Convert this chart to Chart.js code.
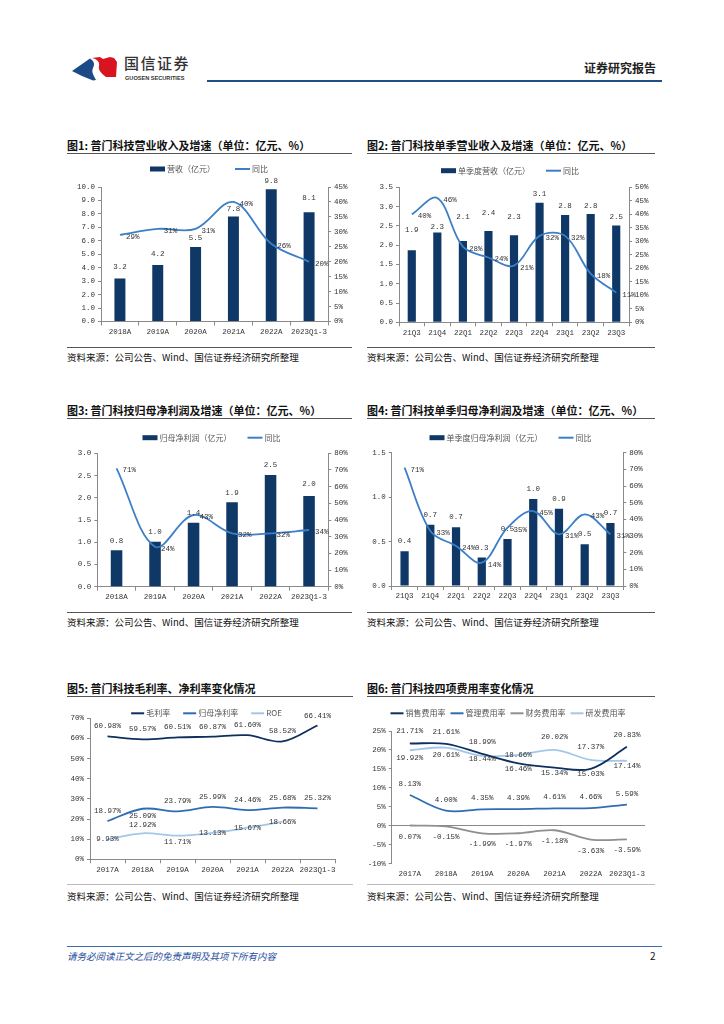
<!DOCTYPE html>
<html lang="zh-CN">
<head>
<meta charset="utf-8">
<script src="https://cdn.jsdelivr.net/npm/chart.js@4.4.0/dist/chart.umd.min.js"></script>
<style>
  body { margin: 0; background: #fff; }
  #page { position: relative; width: 724px; height: 1024px; overflow: hidden; font-family: "Noto Sans CJK SC", sans-serif; }
  .abs { position: absolute; white-space: nowrap; }
  .title { font-size: 11px; font-weight: 700; color: #111; height: 14px; line-height: 14px; }
  .rule { height: 1px; background: #555; }
  .source { font-size: 9.5px; color: #111; height: 12px; line-height: 12px; }
</style>
</head>
<body>
<div id="page">
  <!-- header -->
  <svg class="abs" style="left:66px;top:50px" width="56" height="34" viewBox="66 50 56 34">
    <path d="M72,71 L90,58.5 C94,61 95,64 93,68 C91,72 94,76 96,80 L93,80.5 L82,76 Z" fill="#1d4a86"/>
    <path d="M92,58 L100,57 L103,59 L110,57 L114,58 L117,62 L116,77 L106,77 C101,73 98,70 99,66 C100,62 97,59 92,58 Z" fill="#d7141f"/>
  </svg>
  <div class="abs" style="left:124px;top:54px;font-size:15px;line-height:18px;letter-spacing:1.5px;color:#333;font-weight:500">国信证券</div>
  <div class="abs" style="left:125px;top:74px;font-family:'Liberation Sans',sans-serif;font-size:5.6px;line-height:8px;font-weight:700;color:#333">GUOSEN SECURITIES</div>
  <div class="abs" style="left:207px;top:80px;width:455px;height:2px;background:#1f4e89"></div>
  <div class="abs" style="right:68px;top:61px;font-size:12px;line-height:14px;font-weight:700;color:#222">证券研究报告</div>

  <!-- row 1 -->
  <div class="abs title" style="left:67px;top:138px">图1: 普门科技营业收入及增速（单位：亿元、%）</div>
  <div class="abs rule" style="left:67px;top:153px;width:285px"></div>
  <div class="abs" style="left:67px;top:158px"><canvas id="c1" width="290" height="180"></canvas></div>
  <div class="abs rule" style="left:67px;top:347px;width:285px"></div>
  <div class="abs source" style="left:67px;top:351px">资料来源：公司公告、Wind、国信证券经济研究所整理</div>

  <div class="abs title" style="left:367px;top:138px">图2: 普门科技单季营业收入及增速（单位：亿元、%）</div>
  <div class="abs rule" style="left:367px;top:153px;width:288px"></div>
  <div class="abs" style="left:367px;top:158px"><canvas id="c2" width="290" height="180"></canvas></div>
  <div class="abs rule" style="left:367px;top:347px;width:288px"></div>
  <div class="abs source" style="left:367px;top:351px">资料来源：公司公告、Wind、国信证券经济研究所整理</div>

  <!-- row 2 -->
  <div class="abs title" style="left:67px;top:403px">图3: 普门科技归母净利润及增速（单位：亿元、%）</div>
  <div class="abs rule" style="left:67px;top:418px;width:285px"></div>
  <div class="abs" style="left:67px;top:424px"><canvas id="c3" width="290" height="180"></canvas></div>
  <div class="abs rule" style="left:67px;top:612px;width:285px"></div>
  <div class="abs source" style="left:67px;top:616px">资料来源：公司公告、Wind、国信证券经济研究所整理</div>

  <div class="abs title" style="left:367px;top:403px">图4: 普门科技单季归母净利润及增速（单位：亿元、%）</div>
  <div class="abs rule" style="left:367px;top:418px;width:288px"></div>
  <div class="abs" style="left:367px;top:424px"><canvas id="c4" width="290" height="180"></canvas></div>
  <div class="abs rule" style="left:367px;top:612px;width:288px"></div>
  <div class="abs source" style="left:367px;top:616px">资料来源：公司公告、Wind、国信证券经济研究所整理</div>

  <!-- row 3 -->
  <div class="abs title" style="left:67px;top:681px">图5: 普门科技毛利率、净利率变化情况</div>
  <div class="abs rule" style="left:67px;top:696px;width:286px"></div>
  <div class="abs" style="left:67px;top:700px"><canvas id="c5" width="290" height="178"></canvas></div>
  <div class="abs rule" style="left:67px;top:884px;width:286px;background:#bbb"></div>
  <div class="abs source" style="left:67px;top:890px">资料来源：公司公告、Wind、国信证券经济研究所整理</div>

  <div class="abs title" style="left:367px;top:681px">图6: 普门科技四项费用率变化情况</div>
  <div class="abs rule" style="left:367px;top:696px;width:288px"></div>
  <div class="abs" style="left:367px;top:700px"><canvas id="c6" width="290" height="178"></canvas></div>
  <div class="abs rule" style="left:367px;top:884px;width:288px;background:#bbb"></div>
  <div class="abs source" style="left:367px;top:890px">资料来源：公司公告、Wind、国信证券经济研究所整理</div>

  <!-- footer -->
  <div class="abs" style="left:67px;top:946px;width:595px;height:1px;background:#3a6ea5"></div>
  <div class="abs" style="left:67px;top:950px;font-size:9.5px;line-height:12px;font-style:italic;color:#1f4e9c">请务必阅读正文之后的免责声明及其项下所有内容</div>
  <div class="abs" style="left:650px;top:950px;font-size:10px;line-height:12px;color:#111">2</div>
</div>

<script>
// ---- data ----
const years6 = ['2018A', '2019A', '2020A', '2021A', '2022A', '2023Q1-3'];
const quarters9 = ['21Q3', '21Q4', '22Q1', '22Q2', '22Q3', '22Q4', '23Q1', '23Q2', '23Q3'];
const years7 = ['2017A', '2018A', '2019A', '2020A', '2021A', '2022A', '2023Q1-3'];

const revenue = [3.2, 4.2, 5.54, 7.8, 9.84, 8.13];
const revenueYoY = [29, 31, 31, 40, 26, 20];
const revenueQ = [1.87, 2.33, 2.11, 2.37, 2.26, 3.10, 2.78, 2.81, 2.51];
const revenueQYoY = [40, 46, 28, 24, 21, 32, 32, 18, 11];
const profit = [0.82, 1.01, 1.44, 1.90, 2.51, 2.04];
const profitYoY = [71, 24, 43, 32, 32, 34];
const profitQ = [0.39, 0.69, 0.66, 0.32, 0.53, 0.98, 0.87, 0.47, 0.71];
const profitQYoY = [71, 33, 24, 14, 35, 45, 31, 43, 31];

const grossMargin = [60.98, 59.57, 60.51, 60.87, 61.60, 58.52, 66.41];
const netMargin = [18.97, 25.09, 23.79, 25.99, 24.46, 25.68, 25.32];
const roe = [9.93, 12.92, 11.71, 13.13, 15.67, 18.66, null];

const sellingRate = [21.71, 21.61, 18.99, 16.46, 15.34, 15.03, 20.83];
const adminRate = [8.13, 4.00, 4.35, 4.39, 4.61, 4.66, 5.59];
const financeRate = [0.07, -0.15, -1.99, -1.97, -1.18, -3.63, -3.59];
const rdRate = [19.92, 20.61, 18.44, 18.66, 20.02, 17.37, 17.14];

// label nudges (px, negative = up)
const lift1 = [-11, -11, -9, -8, -8, -14];
const lift2 = [-20, -5, -24, -18, -18, -9, -9, -8, -8];
const lift3 = [-9, -10, -10, -9, -10, -12];
const lift4 = -10;
const netPos = [-10, 7, -10, -10, -10, -10, -10];
const roePos = [0, -8, 6, 0, 0, 0, 0];
const sellPos = [-12, -12, -12, 6, 5, 5, -12];
const rdPos = [8, 7, 3, 0, -13, -13, 5];

// ---- styles ----
const NAVY = '#0f3867';
const LINE_BLUE = '#3d7fc6';
const DARK = '#0f2f5c';
const MID = '#2e6db2';
const LIGHT = '#a3c7e8';
const GRAY = '#8f8f8f';
const AXIS = '#8a8a8a';
const TXT = '#333';
const NUM = 'Liberation Mono';
const CJK = '"Noto Sans CJK SC"';

const fmt1 = v => v.toFixed(1);
const fmtPct0 = v => Math.round(v) + '%';
const fmtPct2 = v => v.toFixed(2) + '%';

const pick = (a, j) => Array.isArray(a) ? a[j] : (a || 0);

const valueLabels = {
  id: 'valueLabels',
  afterDatasetsDraw(chart) {
    const ctx = chart.ctx;
    chart.data.datasets.forEach((ds, i) => {
      const cfg = ds.labelCfg;
      if (!cfg) return;
      const meta = chart.getDatasetMeta(i);
      ctx.save();
      ctx.font = '7.5px ' + NUM;
      ctx.fillStyle = TXT;
      ctx.textBaseline = 'middle';
      ctx.textAlign = cfg.align || 'center';
      meta.data.forEach((el, j) => {
        const v = ds.data[j];
        if (v === null || v === undefined) return;
        ctx.fillText(cfg.fmt(v), el.x + pick(cfg.dx, j), el.y + pick(cfg.dy, j));
      });
      ctx.restore();
    });
  }
};

const miniLegend = {
  id: 'miniLegend',
  afterDraw(chart, args, opts) {
    const ctx = chart.ctx;
    ctx.save();
    ctx.font = '8px ' + CJK;
    ctx.textBaseline = 'middle';
    ctx.textAlign = 'left';
    const mw = opts.markW || 15;
    const items = chart.data.datasets.map(ds => ({ ds, w: ctx.measureText(ds.label).width }));
    const total = items.reduce((s, it) => s + mw + 2 + it.w, 0) + opts.gap * (items.length - 1);
    let x = opts.cx - total / 2;
    items.forEach(it => {
      const kind = it.ds.type || chart.config.type;
      if (kind === 'bar') {
        ctx.fillStyle = it.ds.backgroundColor;
        ctx.fillRect(x, opts.y - 2.5, mw, 5);
      } else {
        ctx.strokeStyle = it.ds.borderColor;
        ctx.lineWidth = 2;
        ctx.beginPath();
        ctx.moveTo(x, opts.y);
        ctx.lineTo(x + mw, opts.y);
        ctx.stroke();
      }
      ctx.fillStyle = '#555';
      ctx.fillText(it.ds.label, x + mw + 2, opts.y);
      x += mw + 2 + it.w + opts.gap;
    });
    ctx.restore();
  }
};

function yAxis(pos, min, max, step, fmt, width, extra) {
  return Object.assign({
    position: pos, min: min, max: max,
    ticks: { stepSize: step, callback: fmt, color: TXT, font: { family: NUM, size: 7.5 }, padding: 3 },
    grid: { display: true, drawOnChartArea: false, drawTicks: true, tickLength: 3, color: AXIS },
    border: { display: true, color: AXIS },
    afterFit: s => { s.width = width; }
  }, extra || {});
}

function xAxis(height, showLine) {
  return {
    type: 'category', offset: true,
    ticks: { color: TXT, font: { family: NUM, size: 7.5 }, padding: 2, maxRotation: 0, autoSkip: false },
    grid: { display: showLine, drawOnChartArea: false, offset: true, tickLength: 4, color: AXIS },
    border: { display: showLine, color: AXIS },
    afterFit: s => { s.height = height; }
  };
}

function comboChart(id, labels, bars, barLabel, line, lineLabel, lift, barPct, yOpt, y1Opt, lay, leg) {
  return new Chart(document.getElementById(id), {
    type: 'bar',
    data: {
      labels: labels,
      datasets: [
        { label: barLabel, data: bars, backgroundColor: NAVY, yAxisID: 'y', order: 1,
          barPercentage: barPct, categoryPercentage: 1,
          labelCfg: { fmt: fmt1, dy: lift } },
        { type: 'line', label: lineLabel, data: line, borderColor: LINE_BLUE, borderWidth: 1.8,
          pointRadius: 0, tension: 0.35, yAxisID: 'y1', order: 0,
          labelCfg: { fmt: fmtPct0, align: 'left', dx: 6, dy: 2 } }
      ]
    },
    options: {
      responsive: false, animation: false,
      layout: { padding: lay },
      plugins: { legend: { display: false }, tooltip: { enabled: false }, miniLegend: leg },
      scales: { x: xAxis(lay.xh, true), y: yOpt, y1: y1Opt }
    },
    plugins: [valueLabels, miniLegend]
  });
}

comboChart('c1', years6, revenue, '营收（亿元）', revenueYoY, '同比', lift1, 0.29,
  yAxis('left', 0, 10, 1, fmt1, 34),
  yAxis('right', 0, 45, 5, v => v + '%', 29),
  { top: 29, right: 0, left: 0, bottom: 0, xh: 16.5 }, { cx: 142, y: 11, gap: 20 });

comboChart('c2', quarters9, revenueQ, '单季度营收（亿元）', revenueQYoY, '同比', lift2, 0.32,
  yAxis('left', 0, 3.5, 0.5, fmt1, 32),
  yAxis('right', 0, 50, 5, v => v + '%', 28),
  { top: 29.3, right: 0, left: 0, bottom: 0, xh: 15.7 }, { cx: 143, y: 12.7, gap: 16 });

comboChart('c3', years6, profit, '归母净利润（亿元）', profitYoY, '同比', lift3, 0.3,
  yAxis('left', 0, 3, 0.5, fmt1, 30.3),
  yAxis('right', 0, 80, 10, v => v + '%', 28.7),
  { top: 29.3, right: 0, left: 0, bottom: 0, xh: 17.3 }, { cx: 144.5, y: 13.7, gap: 16 });

comboChart('c4', quarters9, profitQ, '单季度归母净利润（亿元）', profitQYoY, '同比', lift4, 0.32,
  yAxis('left', 0, 1.5, 0.5, fmt1, 24.7),
  yAxis('right', 0, 80, 10, v => v + '%', 33.7),
  { top: 28.7, right: 0, left: 0, bottom: 0, xh: 18 }, { cx: 143.5, y: 13.7, gap: 16 });

function lineSet(label, data, color, dy) {
  return { label: label, data: data, borderColor: color, borderWidth: 1.8, pointRadius: 0,
    tension: 0.35, labelCfg: { fmt: fmtPct2, dy: dy } };
}

new Chart(document.getElementById('c5'), {
  type: 'line',
  data: {
    labels: years7,
    datasets: [
      lineSet('毛利率', grossMargin, DARK, -10),
      lineSet('归母净利率', netMargin, MID, netPos),
      lineSet('ROE', roe, LIGHT, roePos)
    ]
  },
  options: {
    responsive: false, animation: false,
    layout: { padding: { top: 18.3, right: 22, left: 0, bottom: 0 } },
    plugins: { legend: { display: false }, tooltip: { enabled: false },
      miniLegend: { cx: 139.5, y: 13.3, gap: 13, markW: 13 } },
    scales: {
      x: xAxis(18.7, true),
      y: yAxis('left', 0, 70, 10, v => v + '%', 23)
    }
  },
  plugins: [valueLabels, miniLegend]
});

new Chart(document.getElementById('c6'), {
  type: 'line',
  data: {
    labels: years7,
    datasets: [
      lineSet('销售费用率', sellingRate, DARK, sellPos),
      lineSet('管理费用率', adminRate, MID, -11),
      lineSet('财务费用率', financeRate, GRAY, 11),
      lineSet('研发费用率', rdRate, LIGHT, rdPos)
    ]
  },
  options: {
    responsive: false, animation: false,
    layout: { padding: { top: 31, right: 12, left: 0, bottom: 0 } },
    plugins: { legend: { display: false }, tooltip: { enabled: false },
      miniLegend: { cx: 141, y: 13.3, gap: 5, markW: 13 } },
    scales: {
      x: xAxis(14.3, false),
      y: yAxis('left', -10, 25, 5, v => v + '%', 24.7, {
        grid: { display: true, drawOnChartArea: true, drawTicks: true, tickLength: 3,
          tickColor: AXIS, color: c => (c.tick && c.tick.value === 0) ? AXIS : 'rgba(0,0,0,0)' }
      })
    }
  },
  plugins: [valueLabels, miniLegend]
});
</script>
</body>
</html>
